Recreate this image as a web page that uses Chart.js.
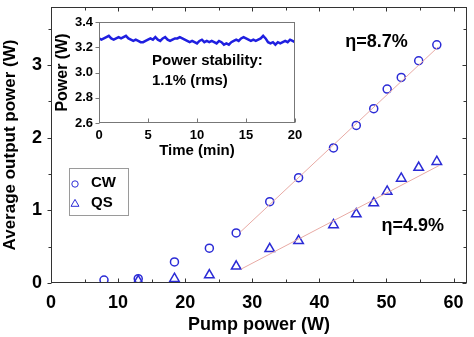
<!DOCTYPE html>
<html lang="en">
<head>
    <meta charset="UTF-8">
    <title>Output power vs pump power</title>
    <script src="https://cdn.jsdelivr.net/npm/chart.js"></script>
    <style>
        html, body { margin: 0; padding: 0; background: #fff; }
        #wrap { position: relative; width: 474px; height: 337px; }
        #mainChart { position: absolute; left: 0; top: 0; }
        #insetChart { position: absolute; left: 50px; top: 0; }
    </style>
</head>
<body>
    <div id="wrap">
        <canvas id="mainChart" width="474" height="337"></canvas>
        <canvas id="insetChart" width="260" height="165"></canvas>
    </div>

    <script>
        // main plot data
        const pumpCW  = [7.9, 13.0, 18.4, 23.6, 27.6, 32.6, 36.9, 42.1, 45.5, 48.1, 50.1, 52.2, 54.8, 57.5];
        const powerCW = [0.04, 0.06, 0.29, 0.48, 0.69, 1.12, 1.45, 1.86, 2.17, 2.40, 2.67, 2.83, 3.06, 3.28];
        const pumpQS  = [13.0, 18.4, 23.6, 27.6, 32.6, 36.9, 42.1, 45.5, 48.1, 50.1, 52.2, 54.8, 57.5];
        const powerQS = [0.03, 0.06, 0.11, 0.23, 0.47, 0.58, 0.80, 0.95, 1.10, 1.26, 1.44, 1.59, 1.67];
        // linear fits
        const fitCWx = [28.2, 57.7];
        const fitCWy = [0.70, 3.25];
        const fitQSx = [28.3, 57.9];
        const fitQSy = [0.19, 1.62];
        // tick positions (labels only on the major ones)
        const xTickVals = [0, 5, 10, 15, 20, 25, 30, 35, 40, 45, 50, 55, 60];
        const yTickVals = [0, 0.5, 1, 1.5, 2, 2.5, 3, 3.5];

        // inset: power stability over 20 min
        const timeMin = [0, 0.25, 0.5, 0.75, 1, 1.25, 1.5, 1.75, 2, 2.25, 2.5, 2.75, 3, 3.25, 3.5, 3.75,
            4, 4.25, 4.5, 4.75, 5, 5.25, 5.5, 5.75, 6, 6.25, 6.5, 6.75, 7, 7.25, 7.5, 7.75,
            8, 8.25, 8.5, 8.75, 9, 9.25, 9.5, 9.75, 10, 10.25, 10.5, 10.75, 11, 11.25, 11.5, 11.75,
            12, 12.25, 12.5, 12.75, 13, 13.25, 13.5, 13.75, 14, 14.25, 14.5, 14.75, 15, 15.25, 15.5, 15.75,
            16, 16.25, 16.5, 16.75, 17, 17.25, 17.5, 17.75, 18, 18.25, 18.5, 18.75, 19, 19.25, 19.5, 19.75, 20];
        const stabPower = [3.27, 3.26, 3.27, 3.28, 3.29, 3.27, 3.26, 3.27, 3.28, 3.27, 3.28, 3.29, 3.27, 3.26, 3.25, 3.26,
            3.25, 3.24, 3.24, 3.25, 3.26, 3.27, 3.26, 3.28, 3.26, 3.25, 3.27, 3.28, 3.26, 3.25, 3.26, 3.27,
            3.27, 3.28, 3.27, 3.26, 3.25, 3.24, 3.25, 3.24, 3.23, 3.25, 3.26, 3.24, 3.25, 3.24, 3.25, 3.24,
            3.23, 3.25, 3.24, 3.22, 3.23, 3.22, 3.24, 3.25, 3.26, 3.25, 3.27, 3.28, 3.27, 3.26, 3.25, 3.26,
            3.25, 3.26, 3.27, 3.29, 3.27, 3.24, 3.23, 3.24, 3.22, 3.24, 3.23, 3.24, 3.25, 3.24, 3.26, 3.25, 3.24];
        const insetXTicks = [0, 5, 10, 15, 20];
        const insetYTicks = [2.6, 2.8, 3.0, 3.2, 3.4];

        const FONT = '"Liberation Sans", Arial, sans-serif';
        const BLUE = '#2b2bd6';
        const FIT = '#e8aaa4';

        const pts = (xs, ys) => xs.map((x, i) => ({ x: x, y: ys[i] }));
        const near = (v, step) => Math.abs(v / step - Math.round(v / step)) < 1e-6;
        const setTicks = vals => s => { s.ticks = vals.map(v => ({ value: v })); };
        // fixed axis size; stop tick labels from pushing the plot area in
        const fixSize = (key, size) => s => {
            s[key] = size;
            s.paddingLeft = s.paddingRight = s.paddingTop = s.paddingBottom = 0;
            s.getPadding = () => ({ left: 0, top: 0, right: 0, bottom: 0 });
        };

        // frame round the plot area, with tick marks on all four sides
        const boxPlugin = {
            id: 'box',
            afterDatasetsDraw(chart, args, o) {
                const { ctx, chartArea: a } = chart;
                const xs = chart.scales.x, ys = chart.scales.y;
                const L = Math.round(a.left) + 0.5, R = Math.round(a.right) - 0.5;
                const T = Math.round(a.top) + 0.5, B = Math.round(a.bottom) - 0.5;
                ctx.save();
                ctx.strokeStyle = o.color;
                ctx.lineWidth = 1;
                ctx.strokeRect(L, T, R - L, B - T);
                ctx.beginPath();
                xs.ticks.forEach(t => {
                    const len = near(t.value, o.xMajor) ? 4 : 3;
                    const px = Math.round(xs.getPixelForValue(t.value)) + 0.5;
                    ctx.moveTo(px, B); ctx.lineTo(px, B - len);
                    if (o.mirror) { ctx.moveTo(px, T); ctx.lineTo(px, T + len); }
                });
                ys.ticks.forEach(t => {
                    const len = near(t.value, o.yMajor) ? 4 : 3;
                    const py = Math.round(ys.getPixelForValue(t.value)) + 0.5;
                    ctx.moveTo(L, py); ctx.lineTo(L - len, py);
                    if (o.mirror) { ctx.moveTo(R, py); ctx.lineTo(R - len, py); }
                });
                ctx.stroke();
                ctx.restore();
            }
        };

        // legend box and the two efficiency labels
        const notesPlugin = {
            id: 'notes',
            afterDatasetsDraw(chart, args, o) {
                const { ctx } = chart;
                const xs = chart.scales.x, ys = chart.scales.y;
                ctx.save();
                ctx.strokeStyle = '#9a9a9a';
                ctx.lineWidth = 1;
                ctx.strokeRect(69.5, 168.5, 59, 47);
                ctx.strokeStyle = BLUE;
                ctx.fillStyle = 'rgba(0,0,0,0)';
                Chart.helpers.drawPoint(ctx, { pointStyle: 'circle', radius: 3.2, rotation: 0, borderWidth: 1.4 }, 75, 184);
                Chart.helpers.drawPoint(ctx, { pointStyle: 'triangle', radius: 4.6, rotation: 0, borderWidth: 1.4 }, 75, 204);
                ctx.fillStyle = '#000';
                ctx.font = 'bold 15px ' + FONT;
                ctx.textBaseline = 'middle';
                ctx.textAlign = 'left';
                ctx.fillText('CW', 91, 183);
                ctx.fillText('QS', 91, 203);
                ctx.font = 'bold 18px ' + FONT;
                ctx.textAlign = 'center';
                o.labels.forEach(l => {
                    ctx.fillText(l.text, xs.getPixelForValue(l.x), ys.getPixelForValue(l.y));
                });
                ctx.restore();
            }
        };

        new Chart(document.getElementById('mainChart'), {
            type: 'scatter',
            data: {
                datasets: [
                    { label: 'CW fit', type: 'line', data: pts(fitCWx, fitCWy), borderColor: FIT, borderWidth: 1, pointRadius: 0 },
                    { label: 'QS fit', type: 'line', data: pts(fitQSx, fitQSy), borderColor: FIT, borderWidth: 1, pointRadius: 0 },
                    { label: 'CW', data: pts(pumpCW, powerCW), pointStyle: 'circle', pointRadius: 4, borderColor: BLUE, backgroundColor: 'rgba(0,0,0,0)', pointBorderWidth: 1.5 },
                    { label: 'QS', data: pts(pumpQS, powerQS), pointStyle: 'triangle', pointRadius: 5.5, borderColor: BLUE, backgroundColor: 'rgba(0,0,0,0)', pointBorderWidth: 1.5 }
                ]
            },
            options: {
                responsive: false,
                animation: false,
                layout: { padding: { top: 3, right: 2, left: 0, bottom: 0 } },
                plugins: {
                    legend: { display: false },
                    tooltip: { enabled: false },
                    box: { color: '#333', xMajor: 10, yMajor: 1, mirror: true },
                    notes: { labels: [
                        { text: '\u03b7=8.7%', x: 48.5, y: 3.32 },
                        { text: '\u03b7=4.9%', x: 53.9, y: 0.79 }
                    ] }
                },
                scales: {
                    x: {
                        type: 'linear', min: 0, max: 62,
                        afterBuildTicks: setTicks(xTickVals),
                        afterFit: fixSize('height', 54),
                        grid: { display: false, drawTicks: false },
                        border: { display: false },
                        ticks: {
                            padding: 9, color: '#000', maxRotation: 0, autoSkip: false,
                            font: { family: FONT, size: 18, weight: 'bold' },
                            callback: v => near(v, 10) ? v : ''
                        },
                        title: { display: true, text: 'Pump power (W)', color: '#000', padding: { top: 0, bottom: 1 },
                            font: { family: FONT, size: 18, weight: 'bold' } }
                    },
                    y: {
                        min: 0, max: 3.8,
                        afterBuildTicks: setTicks(yTickVals),
                        afterFit: fixSize('width', 51),
                        grid: { display: false, drawTicks: false },
                        border: { display: false },
                        ticks: {
                            padding: 9, color: '#000', autoSkip: false,
                            font: { family: FONT, size: 18, weight: 'bold' },
                            callback: v => near(v, 1) ? v : ''
                        },
                        title: { display: true, text: 'Average output power (W)', color: '#000', padding: 0,
                            font: { family: FONT, size: 17, weight: 'bold' } }
                    }
                }
            },
            plugins: [boxPlugin, notesPlugin]
        });

        // inset text inside its plot area
        const insetText = {
            id: 'insetText',
            afterDatasetsDraw(chart) {
                const { ctx } = chart;
                ctx.save();
                ctx.fillStyle = '#000';
                ctx.font = 'bold 15px ' + FONT;
                ctx.textBaseline = 'middle';
                ctx.fillText('Power stability:', 102, 61);
                ctx.fillText('1.1% (rms)', 102, 81);
                ctx.restore();
            }
        };

        new Chart(document.getElementById('insetChart'), {
            type: 'line',
            data: {
                datasets: [{
                    label: 'Power',
                    data: pts(timeMin, stabPower),
                    borderColor: '#1f1fe0', borderWidth: 2.5, pointRadius: 0, tension: 0
                }]
            },
            options: {
                responsive: false,
                animation: false,
                layout: { padding: { top: 22, right: 15, left: 0, bottom: 0 } },
                plugins: {
                    legend: { display: false },
                    tooltip: { enabled: false },
                    box: { color: '#777', xMajor: 5, yMajor: 0.2, mirror: false }
                },
                scales: {
                    x: {
                        type: 'linear', min: 0, max: 20,
                        afterBuildTicks: setTicks(insetXTicks),
                        afterFit: fixSize('height', 42),
                        grid: { display: false, drawTicks: false },
                        border: { display: false },
                        ticks: { padding: 5, color: '#000', maxRotation: 0, autoSkip: false,
                            font: { family: FONT, size: 13, weight: 'bold' } },
                        title: { display: true, text: 'Time (min)', color: '#000', padding: { top: 0, bottom: 5 },
                            font: { family: FONT, size: 15, weight: 'bold' } }
                    },
                    y: {
                        min: 2.6, max: 3.4,
                        afterBuildTicks: setTicks(insetYTicks),
                        afterFit: fixSize('width', 49),
                        grid: { display: false, drawTicks: false },
                        border: { display: false },
                        ticks: { padding: 6, color: '#000', autoSkip: false,
                            font: { family: FONT, size: 13, weight: 'bold' },
                            callback: v => v.toFixed(1) },
                        title: { display: true, text: 'Power (W)', color: '#000', padding: { top: 3, bottom: 0 },
                            font: { family: FONT, size: 16, weight: 'bold' } }
                    }
                }
            },
            plugins: [boxPlugin, insetText]
        });
    </script>
</body>
</html>
